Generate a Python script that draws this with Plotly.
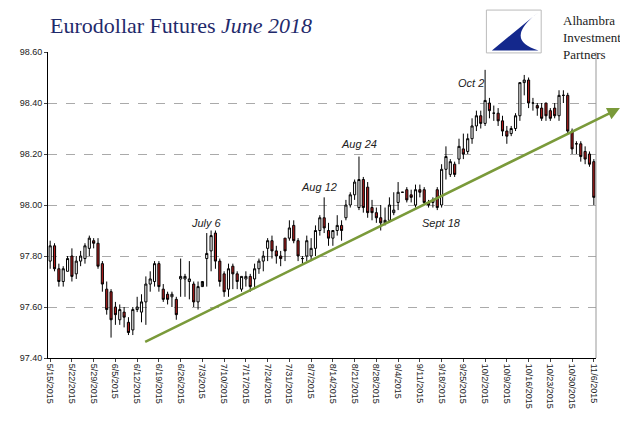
import pandas as pd
import plotly.graph_objects as go

dates = [d.strftime("%-m/%-d/%Y") for d in pd.bdate_range("2015-05-15", "2015-11-06")]

opens = [97.78,
    97.84, 97.75, 97.70, 97.74, 97.80,
    97.73, 97.78, 97.79, 97.83, 97.86,
    97.85, 97.77, 97.67, 97.66, 97.60,
    97.55, 97.58, 97.54, 97.51, 97.59,
    97.58, 97.62, 97.69, 97.70, 97.77,
    97.67, 97.65, 97.64, 97.63, 97.71,
    97.71, 97.70, 97.69, 97.62, 97.68,
    97.79, 97.82, 97.89, 97.78, 97.73,
    97.67, 97.76, 97.73, 97.67, 97.71,
    97.72, 97.71, 97.75, 97.78, 97.83,
    97.86, 97.82, 97.80, 97.87, 97.87,
    97.92, 97.86, 97.79, 97.80, 97.80,
    97.83, 97.90, 97.95, 97.90, 97.87,
    97.90, 97.92, 97.95, 98.00, 98.04,
    97.99, 98.10, 98.07, 97.99, 97.97,
    97.95, 97.93, 97.94, 97.97, 98.01,
    98.05, 98.06, 98.04, 98.00, 98.06,
    98.06, 98.01, 98.01, 98.06, 98.00,
    98.14, 98.12, 98.16, 98.18, 98.22,
    98.21, 98.26, 98.31, 98.35, 98.32,
    98.40, 98.36, 98.36, 98.33, 98.29,
    98.28, 98.30, 98.35, 98.48, 98.49,
    98.40, 98.39, 98.38, 98.40, 98.37,
    98.38, 98.35, 98.43, 98.43, 98.29,
    98.24, 98.24, 98.21, 98.20, 98.17]
highs = [97.86,
    97.85, 97.77, 97.76, 97.80, 97.83,
    97.80, 97.82, 97.85, 97.88, 97.87,
    97.87, 97.78, 97.70, 97.67, 97.62,
    97.61, 97.60, 97.56, 97.60, 97.64,
    97.65, 97.72, 97.74, 97.78, 97.78,
    97.69, 97.66, 97.66, 97.64, 97.79,
    97.73, 97.78, 97.70, 97.70, 97.70,
    97.89, 97.90, 97.90, 97.79, 97.74,
    97.77, 97.77, 97.74, 97.72, 97.74,
    97.73, 97.77, 97.79, 97.82, 97.87,
    97.88, 97.84, 97.82, 97.87, 97.94,
    97.94, 97.87, 97.80, 97.88, 97.87,
    97.92, 97.96, 98.03, 97.93, 97.90,
    97.96, 97.94, 98.02, 98.05, 98.10,
    98.19, 98.11, 98.09, 98.02, 97.99,
    98.00, 97.99, 98.03, 98.05, 98.09,
    98.05, 98.07, 98.06, 98.08, 98.08,
    98.07, 98.02, 98.03, 98.07, 98.16,
    98.23, 98.18, 98.17, 98.26, 98.28,
    98.28, 98.34, 98.37, 98.37, 98.53,
    98.42, 98.39, 98.38, 98.35, 98.31,
    98.31, 98.36, 98.48, 98.51, 98.50,
    98.42, 98.40, 98.40, 98.40, 98.38,
    98.40, 98.45, 98.45, 98.44, 98.30,
    98.25, 98.25, 98.23, 98.21, 98.18]
lows = [97.75,
    97.74, 97.68, 97.68, 97.74, 97.70,
    97.71, 97.76, 97.77, 97.80, 97.83,
    97.75, 97.66, 97.57, 97.48, 97.53,
    97.53, 97.52, 97.49, 97.49, 97.58,
    97.54, 97.53, 97.66, 97.68, 97.66,
    97.62, 97.61, 97.60, 97.55, 97.64,
    97.64, 97.63, 97.60, 97.59, 97.70,
    97.68, 97.74, 97.75, 97.68, 97.64,
    97.64, 97.67, 97.67, 97.66, 97.68,
    97.66, 97.67, 97.73, 97.74, 97.78,
    97.79, 97.77, 97.76, 97.78, 97.86,
    97.85, 97.78, 97.77, 97.78, 97.78,
    97.80, 97.88, 97.89, 97.84, 97.84,
    97.88, 97.86, 97.94, 97.99, 98.02,
    97.98, 97.97, 97.95, 97.94, 97.93,
    97.90, 97.92, 97.93, 97.96, 97.98,
    98.05, 98.01, 98.01, 97.99, 98.03,
    98.00, 97.99, 97.99, 97.98, 97.99,
    98.10, 98.11, 98.11, 98.16, 98.18,
    98.20, 98.24, 98.29, 98.30, 98.31,
    98.34, 98.33, 98.31, 98.27, 98.24,
    98.27, 98.29, 98.33, 98.43, 98.38,
    98.37, 98.35, 98.33, 98.33, 98.33,
    98.34, 98.33, 98.40, 98.28, 98.20,
    98.20, 98.17, 98.16, 98.15, 98.00]
closes = [97.84,
    97.75, 97.70, 97.75, 97.79, 97.72,
    97.78, 97.80, 97.84, 97.87, 97.85,
    97.76, 97.69, 97.59, 97.55, 97.57,
    97.59, 97.56, 97.50, 97.59, 97.60,
    97.62, 97.69, 97.71, 97.77, 97.68,
    97.63, 97.63, 97.65, 97.57, 97.72,
    97.72, 97.71, 97.62, 97.68, 97.70,
    97.81, 97.88, 97.78, 97.70, 97.66,
    97.75, 97.73, 97.70, 97.72, 97.72,
    97.68, 97.75, 97.78, 97.80, 97.86,
    97.82, 97.80, 97.79, 97.82, 97.91,
    97.86, 97.80, 97.79, 97.86, 97.83,
    97.90, 97.95, 97.91, 97.87, 97.90,
    97.92, 97.90, 98.00, 98.04, 98.09,
    98.10, 97.99, 97.97, 97.97, 97.95,
    97.93, 97.94, 98.00, 97.98, 98.05,
    98.05, 98.02, 98.03, 98.06, 98.05,
    98.01, 98.00, 98.02, 97.99, 98.14,
    98.19, 98.17, 98.12, 98.23, 98.20,
    98.26, 98.31, 98.35, 98.32, 98.41,
    98.37, 98.36, 98.33, 98.29, 98.27,
    98.30, 98.35, 98.48, 98.49, 98.40,
    98.40, 98.38, 98.34, 98.35, 98.34,
    98.35, 98.43, 98.43, 98.29, 98.22,
    98.24, 98.19, 98.18, 98.16, 98.03]

y_ticks = [97.40, 97.60, 97.80, 98.00, 98.20, 98.40, 98.60]
tick_dates = dates[::5]

# labelled days: date, label, price level, pixel shift
note_dates = ["7/6/2015", "8/12/2015", "8/24/2015", "9/18/2015", "10/2/2015"]
note_labels = ["July 6", "Aug 12", "Aug 24", "Sept 18", "Oct 2"]
note_levels = [97.93, 98.07, 98.24, 97.93, 98.48]
note_shifts = [0, -5, 0, 0, -14]
trend_start = ("6/15/2015", 97.46)
trend_end_level = 98.38

fig = go.Figure(go.Candlestick(
    x=dates, open=opens, high=highs, low=lows, close=closes,
    increasing=dict(line=dict(color="black", width=1), fillcolor="white"),
    decreasing=dict(line=dict(color="black", width=1), fillcolor="#B01E1E"),
    whiskerwidth=0, showlegend=False,
))

n = len(dates)
fig.add_annotation(
    x=n + 5, y=trend_end_level, ax=dates.index(trend_start[0]) + 0.5, ay=trend_start[1],
    xref="x", yref="y", axref="x", ayref="y", text="",
    showarrow=True, arrowhead=2, arrowsize=1, arrowwidth=2.5, arrowcolor="#7A9A3A",
)
for d, lab, lvl, shift in zip(note_dates, note_labels, note_levels, note_shifts):
    fig.add_annotation(x=d, y=lvl, text=f"<i>{lab}</i>", showarrow=False, xshift=shift,
                       font=dict(family="Liberation Sans", size=11, color="#222"))

fig.add_annotation(xref="paper", yref="paper", x=0.0, y=1.085, xanchor="left", yanchor="middle",
                   showarrow=False, text="Eurodollar Futures <i>June 2018</i>",
                   font=dict(family="Liberation Serif", size=22, color="#1F2A6B"))
fig.add_annotation(xref="paper", yref="paper", x=1.05, y=1.135, xanchor="right", yanchor="top",
                   showarrow=False, align="left", text="Alhambra<br>Investment<br>Partners",
                   font=dict(family="Liberation Serif", size=13, color="#222"))
fig.add_shape(type="rect", xref="paper", yref="paper", x0=0.80, x1=0.90, y0=0.997, y1=1.137,
              line=dict(color="#bbb", width=1), fillcolor="white")
fig.add_shape(type="path", xref="paper", yref="paper",
              path="M 0.895,1.13 L 0.81,1.005 L 0.895,1.005 Q 0.83,1.04 0.895,1.13 Z",
              fillcolor="#14288C", line=dict(width=0))

fig.update_layout(
    width=628, height=421, paper_bgcolor="white", plot_bgcolor="white",
    margin=dict(l=40, r=40, t=44, b=71),
    xaxis=dict(type="category", rangeslider=dict(visible=False), tickvals=tick_dates,
               ticktext=tick_dates, tickangle=90,
               tickfont=dict(family="Liberation Sans", size=9, color="#222"),
               showgrid=False, showline=True, linecolor="black", ticks="outside", ticklen=3,
               range=[-0.5, n - 0.5]),
    yaxis=dict(range=[97.40, 98.60], tickvals=y_ticks, tickformat=".2f",
               tickfont=dict(family="Liberation Sans", size=9, color="#222"),
               gridcolor="#aaa", griddash="dash", gridwidth=1,
               showline=True, linecolor="black", ticks="outside", ticklen=3),
)
fig.add_shape(type="line", xref="paper", yref="paper", x0=1, x1=1, y0=0, y1=1,
              line=dict(color="#999", width=1))

fig.write_html("out.html")
